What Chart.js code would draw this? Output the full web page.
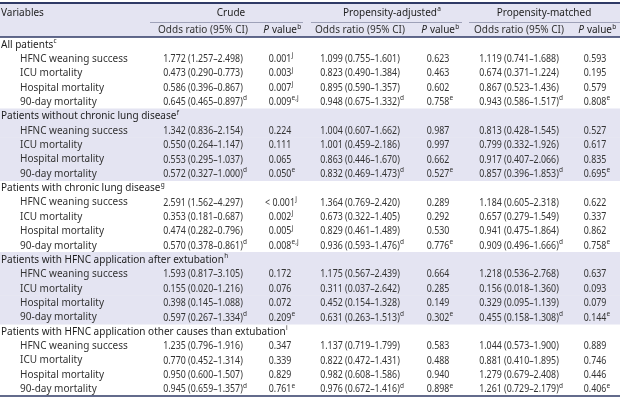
<!DOCTYPE html>
<html><head><meta charset="utf-8">
<script src="https://cdn.jsdelivr.net/npm/chart.js@4"></script>
<style>html,body{margin:0;padding:0;background:#fff}canvas{display:block}</style>
</head><body>
<canvas id="c" width="620" height="411"></canvas>
<script>
// ---------- DATA ----------
const outcomes = ['HFNC weaning success', 'ICU mortality', 'Hospital mortality', '90-day mortality'];
const groups = ['All patients', 'Patients without chronic lung disease', 'Patients with chronic lung disease',
  'Patients with HFNC application after extubation', 'Patients with HFNC application other causes than extubation'];
const groupNotes = ['c', 'f', 'g', 'h', 'i'];
const methods = ['Crude', 'Propensity-adjusted', 'Propensity-matched'];
const methodNotes = ['', 'a', ''];
const firstHeader = 'Variables';
const subHeaderOR = 'Odds ratio (95% CI)';
const subHeaderP = ['P', ' value', 'b'];
const orNotes = ['', '', '', 'd'];          // by outcome
const pNotesAdjusted = ['', '', '', 'e'];   // by outcome (adjusted & matched)

const crudeOR = [1.772,0.473,0.586,0.645, 1.342,0.550,0.553,0.572, 2.591,0.353,0.474,0.570, 1.593,0.155,0.398,0.597, 1.235,0.770,0.950,0.945];
const crudeLo = [1.257,0.290,0.396,0.465, 0.836,0.264,0.295,0.327, 1.562,0.181,0.282,0.378, 0.817,0.020,0.145,0.267, 0.796,0.452,0.600,0.659];
const crudeHi = [2.498,0.773,0.867,0.897, 2.154,1.147,1.037,1.000, 4.297,0.687,0.796,0.861, 3.105,1.216,1.088,1.334, 1.916,1.314,1.507,1.357];
const crudeP = ['0.001','0.003','0.007','0.009', '0.224','0.111','0.065','0.050', '< 0.001','0.002','0.005','0.008', '0.172','0.076','0.072','0.209', '0.347','0.339','0.829','0.761'];
const crudePNotes = ['j','j','j','e,j', '','','','e', 'j','j','j','e,j', '','','','e', '','','','e'];

const adjOR = [1.099,0.823,0.895,0.948, 1.004,1.001,0.863,0.832, 1.364,0.673,0.829,0.936, 1.175,0.311,0.452,0.631, 1.137,0.822,0.982,0.976];
const adjLo = [0.755,0.490,0.590,0.675, 0.607,0.459,0.446,0.469, 0.769,0.322,0.461,0.593, 0.567,0.037,0.154,0.263, 0.719,0.472,0.608,0.672];
const adjHi = [1.601,1.384,1.357,1.332, 1.662,2.186,1.670,1.473, 2.420,1.405,1.489,1.476, 2.439,2.642,1.328,1.513, 1.799,1.431,1.586,1.416];
const adjP = ['0.623','0.463','0.602','0.758', '0.987','0.997','0.662','0.527', '0.289','0.292','0.530','0.776', '0.664','0.285','0.149','0.302', '0.583','0.488','0.940','0.898'];

const matOR = [1.119,0.674,0.867,0.943, 0.813,0.799,0.917,0.857, 1.184,0.657,0.941,0.909, 1.218,0.156,0.329,0.455, 1.044,0.881,1.279,1.261];
const matLo = [0.741,0.371,0.523,0.586, 0.428,0.332,0.407,0.396, 0.605,0.279,0.475,0.496, 0.536,0.018,0.095,0.158, 0.573,0.410,0.679,0.729];
const matHi = [1.688,1.224,1.436,1.517, 1.545,1.926,2.066,1.853, 2.318,1.549,1.864,1.666, 2.768,1.360,1.139,1.308, 1.900,1.895,2.408,2.179];
const matP = ['0.593','0.195','0.579','0.808', '0.527','0.617','0.835','0.695', '0.622','0.337','0.862','0.758', '0.637','0.093','0.079','0.144', '0.889','0.746','0.446','0.406'];

// ---------- LAYOUT / STYLE ----------
const X_MAX = 620;
const COL = { label: 1, indent: 20, or: [203, 360, 519], p: [280, 438, 595], head: [231, 390, 544] };
const SPAN = [[150, 303], [311, 462], [469, 620]];
const HEAD = { top: 3, row1: 13, rule: 22, row2: 30.5 };
const SHADE = '#e4e4f2';
const NAVY = '#2f3a66';
const RULE = '#9ea1b8';
const TXT = '#333333';
const TXT_DARK = '#1e1e1e';
const FONT = '"Noto Sans", "Open Sans", sans-serif';
const LABEL_PX = 10, HEAD_PX = 10, NUM_PX = 10.5, NUM_SX = 0.84, SUP_PX = 6.5;
const shadedGroups = [1, 3];

// ---------- ROWS ----------
const rowLabels = [], rowKind = [], rowRef = [], rowGroup = [];
groups.forEach((g, gi) => {
  rowLabels.push(g); rowKind.push('group'); rowRef.push(gi); rowGroup.push(gi);
  outcomes.forEach((o, oi) => {
    rowLabels.push(o); rowKind.push('item'); rowRef.push(gi * outcomes.length + oi); rowGroup.push(gi);
  });
});
const shadeData = rowGroup.map(g => shadedGroups.includes(g) ? [0, X_MAX] : null);

const f3 = v => v.toFixed(3);
const methodData = [
  { or: crudeOR, lo: crudeLo, hi: crudeHi, p: crudeP, pNote: i => crudePNotes[i] },
  { or: adjOR, lo: adjLo, hi: adjHi, p: adjP, pNote: i => pNotesAdjusted[i % 4] },
  { or: matOR, lo: matLo, hi: matHi, p: matP, pNote: i => pNotesAdjusted[i % 4] }
];

function font(px, style) { return (style || '') + ' ' + px + 'px ' + FONT; }

// parts: [{t, px, italic, sup, sx}] ; 'center' centres the main text (superscripts trail)
function drawRich(ctx, parts, x, y, align, color) {
  ctx.fillStyle = color;
  ctx.textBaseline = 'middle';
  ctx.textAlign = 'left';
  const widths = parts.map(p => { ctx.font = font(p.px, p.italic ? 'italic' : ''); return ctx.measureText(p.t).width * (p.sx || 1); });
  let mainW = 0;
  parts.forEach((p, i) => { if (!p.sup) mainW += widths[i]; });
  let cx = align === 'center' ? x - mainW / 2 : x;
  parts.forEach((p, i) => {
    ctx.font = font(p.px, p.italic ? 'italic' : '');
    ctx.save();
    ctx.translate(cx, p.sup ? y - 3.5 : y);
    ctx.scale(p.sx || 1, 1);
    ctx.fillText(p.t, 0, 0);
    ctx.restore();
    cx += widths[i] + (p.sup ? 0 : 0.3);
  });
}

const tablePlugin = {
  id: 'tablePlugin',
  beforeDatasetsDraw(chart) {
    const { ctx, chartArea: a, scales: { x } } = chart;
    ctx.save();
    ctx.fillStyle = SHADE;
    ctx.fillRect(x.getPixelForValue(0), HEAD.top, x.getPixelForValue(X_MAX) - x.getPixelForValue(0), a.top - HEAD.top);
    ctx.restore();
  },
  afterDatasetsDraw(chart) {
    const { ctx, chartArea: a, scales: { x, y } } = chart;
    const L = x.getPixelForValue(0), R = x.getPixelForValue(X_MAX);
    ctx.save();
    drawRich(ctx, [{ t: firstHeader, px: LABEL_PX }], x.getPixelForValue(COL.label), HEAD.row1, 'left', TXT_DARK);
    methods.forEach((m, mi) => {
      const parts = [{ t: m, px: LABEL_PX }];
      if (methodNotes[mi]) parts.push({ t: methodNotes[mi], px: SUP_PX, sup: true });
      drawRich(ctx, parts, x.getPixelForValue(COL.head[mi]), HEAD.row1, 'center', TXT_DARK);
      drawRich(ctx, [{ t: subHeaderOR, px: HEAD_PX }], x.getPixelForValue(COL.or[mi]), HEAD.row2, 'center', TXT);
      drawRich(ctx, [{ t: subHeaderP[0], px: HEAD_PX, italic: true }, { t: subHeaderP[1], px: HEAD_PX }, { t: subHeaderP[2], px: SUP_PX, sup: true }],
        x.getPixelForValue(COL.p[mi]), HEAD.row2, 'center', TXT_DARK);
      ctx.strokeStyle = RULE; ctx.lineWidth = 1;
      ctx.beginPath();
      ctx.moveTo(x.getPixelForValue(SPAN[mi][0]), HEAD.rule + 0.5);
      ctx.lineTo(x.getPixelForValue(SPAN[mi][1]), HEAD.rule + 0.5);
      ctx.stroke();
    });
    rowLabels.forEach((lab, r) => {
      const py = y.getPixelForValue(r) + 0.5;
      if (rowKind[r] === 'group') {
        drawRich(ctx, [{ t: lab, px: LABEL_PX }, { t: groupNotes[rowRef[r]], px: SUP_PX, sup: true }],
          x.getPixelForValue(COL.label), py, 'left', TXT_DARK);
        return;
      }
      const i = rowRef[r];
      drawRich(ctx, [{ t: lab, px: LABEL_PX }], x.getPixelForValue(COL.indent), py, 'left', TXT);
      methodData.forEach((md, mi) => {
        const orParts = [{ t: f3(md.or[i]) + ' (' + f3(md.lo[i]) + '\u2013' + f3(md.hi[i]) + ')', px: NUM_PX, sx: NUM_SX }];
        const on = orNotes[i % 4];
        if (on) orParts.push({ t: on, px: SUP_PX, sup: true });
        drawRich(ctx, orParts, x.getPixelForValue(COL.or[mi]), py, 'center', TXT);
        const pParts = [{ t: md.p[i], px: NUM_PX, sx: NUM_SX }];
        const pn = md.pNote(i);
        if (pn) pParts.push({ t: pn, px: SUP_PX, sup: true });
        drawRich(ctx, pParts, x.getPixelForValue(COL.p[mi]), py, 'center', TXT);
      });
    });
    ctx.strokeStyle = NAVY;
    ctx.lineWidth = 2;
    ctx.beginPath(); ctx.moveTo(L, HEAD.top); ctx.lineTo(R, HEAD.top); ctx.stroke();
    ctx.lineWidth = 1.5;
    ctx.beginPath(); ctx.moveTo(L, a.top); ctx.lineTo(R, a.top); ctx.stroke();
    ctx.beginPath(); ctx.moveTo(L, a.bottom); ctx.lineTo(R, a.bottom); ctx.stroke();
    ctx.restore();
  }
};

new Chart(document.getElementById('c'), {
  type: 'bar',
  data: {
    labels: rowLabels,
    datasets: [{
      data: shadeData,
      backgroundColor: SHADE,
      borderWidth: 0,
      barPercentage: 1,
      categoryPercentage: 1
    }]
  },
  options: {
    indexAxis: 'y',
    responsive: false,
    animation: false,
    devicePixelRatio: 1,
    events: [],
    layout: { padding: { top: 37, bottom: 15, left: 0, right: 0 } },
    plugins: { legend: { display: false }, tooltip: { enabled: false } },
    scales: {
      x: { type: 'linear', min: 0, max: X_MAX, display: false },
      y: { type: 'category', display: false, offset: true }
    }
  },
  plugins: [tablePlugin]
});
</script>
</body></html>
